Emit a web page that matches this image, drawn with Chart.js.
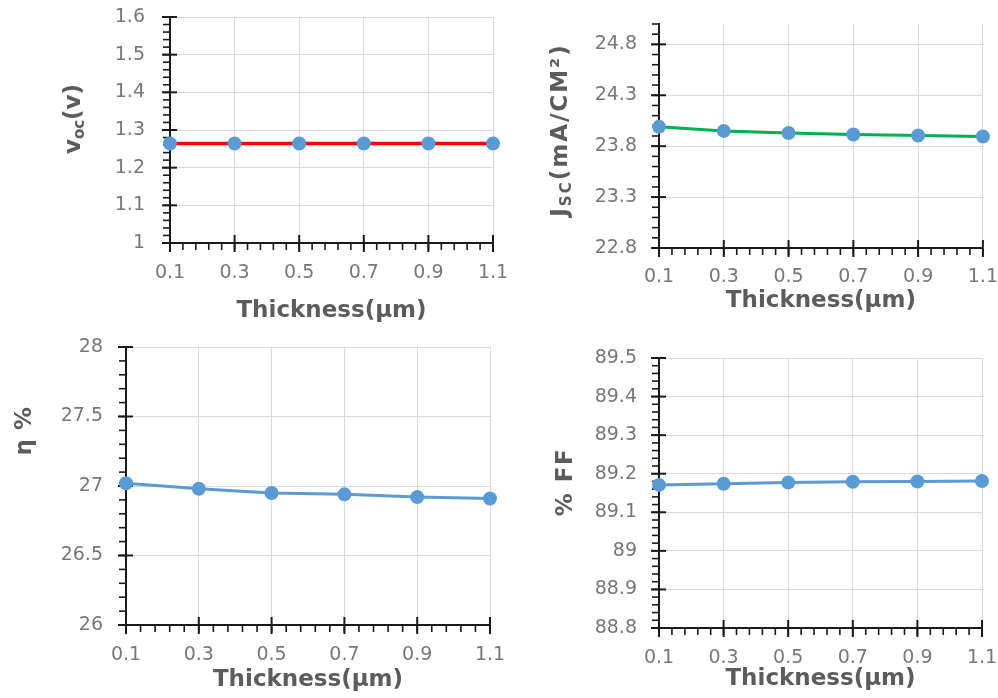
<!DOCTYPE html>
<html>
<head>
<meta charset="utf-8">
<script src="https://cdn.jsdelivr.net/npm/chart.js@4.4.1/dist/chart.umd.min.js"></script>
<style>
  html, body { margin: 0; padding: 0; background: #ffffff; }
  #wrap { position: relative; width: 998px; height: 698px; overflow: hidden; }
  #wrap canvas { position: absolute; left: 0; top: 0; }
</style>
</head>
<body>
<div id="wrap">
  <canvas id="cVoc" width="998" height="698"></canvas>
  <canvas id="cJsc" width="998" height="698"></canvas>
  <canvas id="cEta" width="998" height="698"></canvas>
  <canvas id="cFF" width="998" height="698"></canvas>
</div>
<script>
// ---------- data ----------
const thickness = [0.1, 0.3, 0.5, 0.7, 0.9, 1.1];
const xTicks = [0.1, 0.3, 0.5, 0.7, 0.9, 1.1];

const vocValues = [1.264, 1.264, 1.264, 1.264, 1.264, 1.264];
const vocTicks = [1, 1.1, 1.2, 1.3, 1.4, 1.5, 1.6];

const jscValues = [23.99, 23.95, 23.93, 23.915, 23.905, 23.895];
const jscTicks = [22.8, 23.3, 23.8, 24.3, 24.8];

const etaValues = [27.02, 26.98, 26.95, 26.94, 26.92, 26.91];
const etaTicks = [26, 26.5, 27, 27.5, 28];

const ffValues = [89.171, 89.174, 89.177, 89.179, 89.180, 89.181];
const ffTicks = [88.8, 88.9, 89, 89.1, 89.2, 89.3, 89.4, 89.5];

const xTitle = 'Thickness(µm)';

// ---------- style ----------
const W = 998, H = 698;
const FONT = '"DejaVu Sans", "Liberation Sans", sans-serif';
const TICK_SIZE = 19;
const TICK_COLOR = '#777777';
const TITLE_COLOR = '#5c5c5c';
const AXIS_COLOR = '#1a1a1a';
const GRID_COLOR = '#d9d9d9';
const MARKER = '#5b9bd5';
const NONE = 'rgba(0,0,0,0)';

Chart.defaults.font.family = FONT;

// minor / major tick marks (Excel "cross" major, "outside" minor)
const tickMarks = {
  id: 'tickMarks',
  beforeDatasetsDraw(chart, args, o) {
    const { ctx, chartArea: a } = chart;
    const xs = chart.scales.x, ys = chart.scales.y;
    ctx.save();
    ctx.strokeStyle = AXIS_COLOR;
    const line = (x1, y1, x2, y2) => { ctx.beginPath(); ctx.moveTo(x1, y1); ctx.lineTo(x2, y2); ctx.stroke(); };
    ctx.lineWidth = 1.6;
    let n = Math.round((ys.max - ys.min) / o.yMinor);
    for (let i = 0; i <= n; i++) {
      const p = ys.getPixelForValue(ys.min + i * o.yMinor);
      line(a.left - 7, p, a.left, p);
    }
    n = Math.round((xs.max - xs.min) / o.xMinor);
    for (let i = 0; i <= n; i++) {
      const p = xs.getPixelForValue(xs.min + i * o.xMinor);
      line(p, a.bottom, p, a.bottom + 7);
    }
    ctx.lineWidth = 2;
    ys.ticks.forEach(t => { const p = ys.getPixelForValue(t.value); line(a.left - 8, p, a.left + 7, p); });
    xs.ticks.forEach(t => { const p = xs.getPixelForValue(t.value); line(p, a.bottom - 8, p, a.bottom + 9); });
    ctx.restore();
  }
};

// rotated y-axis title with subscripts
const yTitle = {
  id: 'yTitle',
  afterDraw(chart, args, o) {
    const ctx = chart.ctx;
    const mainFont = 'bold 23px ' + FONT;
    const subFont = 'bold 15px ' + FONT;
    ctx.save();
    ctx.translate(o.x, o.y);
    ctx.rotate(-Math.PI / 2);
    ctx.fillStyle = TITLE_COLOR;
    ctx.textBaseline = 'middle';
    ctx.textAlign = 'left';
    if ('letterSpacing' in ctx) ctx.letterSpacing = (o.spacing || 0) + 'px';
    let total = 0;
    const widths = o.parts.map(s => {
      ctx.font = s.sub ? subFont : mainFont;
      const w = ctx.measureText(s.text).width;
      total += w;
      return w;
    });
    let x = -total / 2;
    o.parts.forEach((s, i) => {
      ctx.font = s.sub ? subFont : mainFont;
      ctx.fillText(s.text, x, s.sub ? 6 : 0);
      x += widths[i];
    });
    ctx.restore();
  }
};

function fmtY(v) { return String(Math.round(v * 100) / 100); }

function makeChart(id, p) {
  const gridColor = c => (c.index === 0 ? NONE : GRID_COLOR);
  return new Chart(document.getElementById(id), {
    type: 'line',
    data: {
      datasets: [{
        data: thickness.map((x, i) => ({ x: x, y: p.values[i] })),
        borderColor: p.lineColor,
        borderWidth: p.lineWidth,
        pointRadius: 7,
        pointBackgroundColor: MARKER,
        pointBorderColor: MARKER,
        pointBorderWidth: 0,
        tension: 0,
        clip: false
      }]
    },
    options: {
      responsive: false,
      animation: false,
      events: [],
      layout: { padding: { left: 0, top: p.area.t, right: W - p.area.r, bottom: 0 } },
      plugins: {
        legend: { display: false },
        tooltip: { enabled: false },
        tickMarks: { yMinor: p.yMinor, xMinor: 0.04 },
        yTitle: { parts: p.yTitleParts, x: p.yTitlePos[0], y: p.yTitlePos[1], spacing: p.yTitleSpacing }
      },
      scales: {
        x: {
          type: 'linear',
          min: 0.1, max: 1.1,
          afterBuildTicks: s => { s.ticks = xTicks.map(v => ({ value: v })); },
          afterFit: s => { s.height = H - p.area.b; },
          grid: { color: gridColor, lineWidth: 1, drawTicks: true, tickColor: NONE,
                  tickLength: p.xLabelY - p.area.b - TICK_SIZE * 0.6 },
          border: { color: AXIS_COLOR, width: 2 },
          ticks: {
            padding: 0,
            color: TICK_COLOR, font: { size: TICK_SIZE },
            maxRotation: 0, autoSkip: false,
            callback: v => Number(v).toFixed(1)
          },
          title: {
            display: true, text: xTitle, color: TITLE_COLOR,
            font: { size: 23, weight: 'bold' },
            padding: { top: 0, bottom: H - 13.8 - p.xTitleY }
          }
        },
        y: {
          type: 'linear',
          min: p.yMin, max: p.yMax,
          afterBuildTicks: s => { s.ticks = p.yTicks.map(v => ({ value: v })); },
          afterFit: s => { s.width = p.area.l; },
          grid: { color: gridColor, lineWidth: 1, drawTicks: true, tickColor: NONE, tickLength: p.yPad },
          border: { color: AXIS_COLOR, width: 2 },
          ticks: {
            padding: 0,
            color: TICK_COLOR, font: { size: TICK_SIZE },
            callback: v => fmtY(v)
          }
        }
      }
    },
    plugins: [tickMarks, yTitle]
  });
}

makeChart('cVoc', {
  values: vocValues, yTicks: vocTicks, yMin: 1, yMax: 1.6, yMinor: 0.02,
  lineColor: '#ff0000', lineWidth: 3.5,
  area: { l: 170, t: 17, r: 493, b: 243 },
  yPad: 25, xLabelY: 273, xTitleY: 311,
  yTitleParts: [{ text: 'v' }, { text: 'oc', sub: true }, { text: '(v)' }],
  yTitlePos: [74, 119], yTitleSpacing: 0
});

makeChart('cJsc', {
  values: jscValues, yTicks: jscTicks, yMin: 22.8, yMax: 25.0, yMinor: 0.1,
  lineColor: '#00b050', lineWidth: 3,
  area: { l: 659, t: 24, r: 983, b: 248 },
  yPad: 22, xLabelY: 277, xTitleY: 301,
  yTitleParts: [{ text: 'J' }, { text: 'SC', sub: true }, { text: '(mA/CM²)' }],
  yTitlePos: [561, 130], yTitleSpacing: 2
});

makeChart('cEta', {
  values: etaValues, yTicks: etaTicks, yMin: 26, yMax: 28, yMinor: 0.1,
  lineColor: MARKER, lineWidth: 3,
  area: { l: 126, t: 347, r: 490, b: 625 },
  yPad: 23, xLabelY: 655, xTitleY: 680,
  yTitleParts: [{ text: 'η %' }],
  yTitlePos: [25, 431], yTitleSpacing: 0.5
});

makeChart('cFF', {
  values: ffValues, yTicks: ffTicks, yMin: 88.8, yMax: 89.5, yMinor: 0.02,
  lineColor: MARKER, lineWidth: 3,
  area: { l: 659, t: 358, r: 982, b: 628 },
  yPad: 22, xLabelY: 658, xTitleY: 679,
  yTitleParts: [{ text: '% FF' }],
  yTitlePos: [566, 482], yTitleSpacing: 1.5
});
</script>
</body>
</html>
